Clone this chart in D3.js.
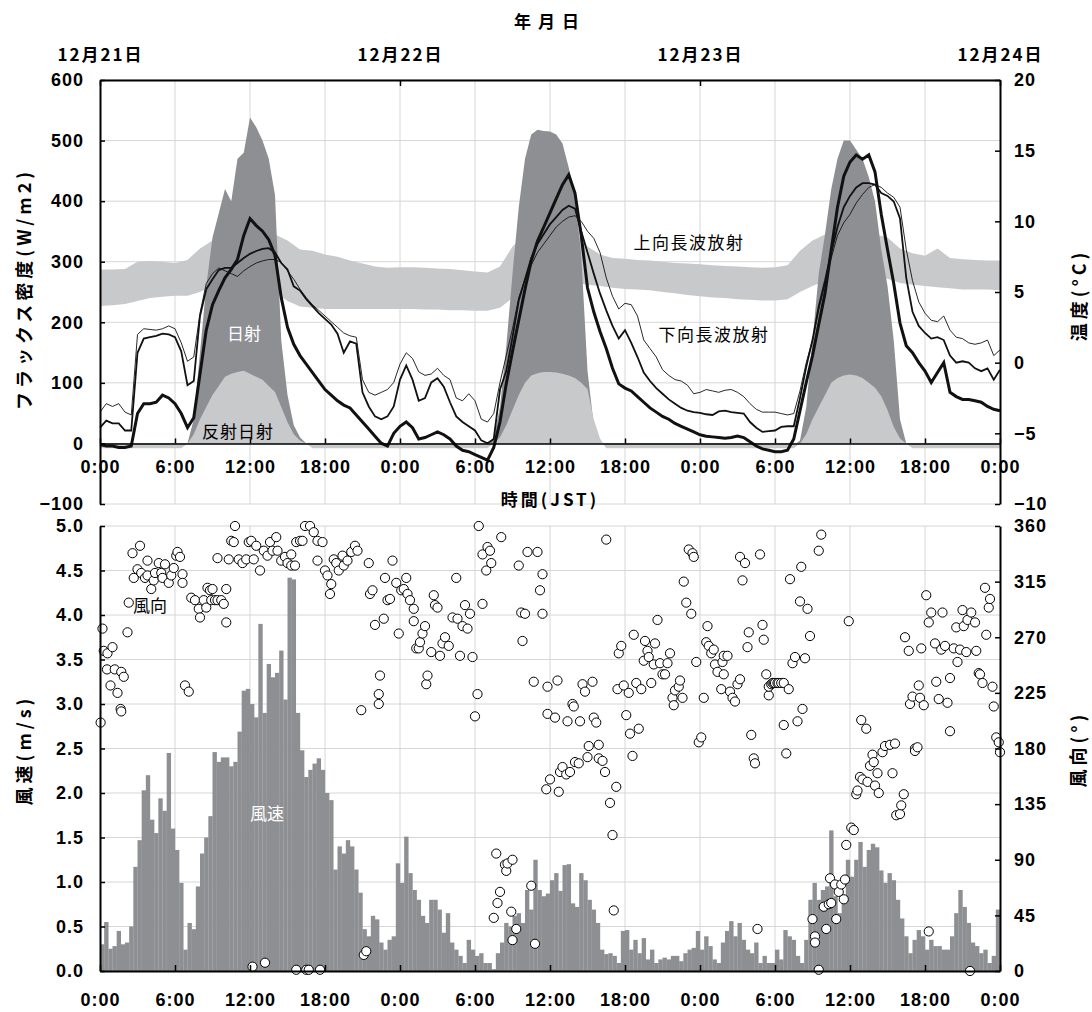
<!DOCTYPE html>
<html>
<head>
<meta charset="utf-8">
<style>
  body { margin: 0; background: #fff; }
</style>
</head>
<body>
<script src="https://d3js.org/d3.v7.min.js"></script>
<script>
    // ---- data (hours counted from 12/21 0:00) ----
    const dateLabels = ["12月21日", "12月22日", "12月23日", "12月24日"];

    // temperatures (°C), every 30 min, 0..72 h
    const tempThick = [
        -5.8,-5.9,-5.9,-6.0,-6.0,-5.9,-3.6,-2.9,-2.9,-2.8,
        -2.3,-2.5,-2.9,-3.6,-4.6,-3.9,-0.8,2.3,4.1,5.1,
        6.0,6.6,7.3,9.0,10.2,9.7,9.3,8.7,7.6,4.6,
        2.5,1.3,0.5,-0.1,-0.7,-1.3,-1.9,-2.3,-2.7,-3.0,
        -3.2,-3.7,-4.2,-4.7,-5.2,-5.7,-5.9,-5.0,-4.5,-4.2,
        -4.6,-5.4,-5.3,-5.1,-4.9,-5.1,-5.4,-5.9,-6.2,-6.3,
        -6.5,-6.7,-6.9,-6.0,-4.2,-1.5,0.8,3.0,5.2,7.2,
        8.6,9.6,10.6,11.6,12.6,13.3,12.0,9.0,5.3,3.6,
        2.2,1.0,-0.4,-1.5,-1.8,-2.0,-2.4,-2.8,-3.2,-3.5,
        -3.8,-4.0,-4.3,-4.5,-4.7,-4.9,-5.1,-5.2,-5.25,-5.3,
        -5.35,-5.3,-5.2,-5.3,-5.6,-5.9,-6.1,-6.2,-6.3,-6.3,
        -6.2,-5.4,-3.4,-1.4,0.5,2.7,4.9,8.0,11.0,13.2,
        14.2,14.7,14.4,14.7,13.5,10.5,8.0,5.6,2.8,1.2,
        0.7,0.0,-0.6,-1.4,-0.7,0.0,-2.1,-2.4,-2.6,-2.6,
        -2.7,-2.8,-3.1,-3.3,-3.4
    ];
    const tempMid = [
        -4.6,-4.1,-4.3,-4.3,-4.8,-4.8,0.7,1.7,1.8,1.9,
        2.05,2.0,1.8,0.8,-1.6,-1.3,3.3,5.2,5.9,6.55,
        6.7,6.7,7.05,7.4,7.7,7.9,8.05,8.1,7.8,7.05,
        6.6,5.4,5.1,4.5,4.0,3.5,3.1,2.7,2.05,0.7,
        1.5,1.35,-2.1,-3.1,-3.8,-4.0,-3.8,-3.1,-1.2,-0.2,
        -1.2,-2.7,-2.5,-1.4,-1.1,-1.7,-2.8,-3.8,-4.2,-4.5,
        -4.8,-5.5,-5.7,-5.4,-1.9,-0.6,1.8,4.4,5.9,7.4,
        8.4,9.1,9.8,10.3,10.8,11.1,10.9,9.3,7.8,6.3,
        4.9,3.7,2.6,1.7,2.3,1.4,0.4,-0.7,-1.3,-1.8,
        -2.2,-2.6,-2.9,-3.2,-3.4,-3.5,-3.55,-3.65,-3.7,-3.45,
        -3.4,-3.5,-3.55,-3.6,-4.2,-4.6,-4.9,-4.85,-4.8,-4.55,
        -4.5,-4.5,-2.5,-0.3,1.6,4.0,5.8,7.8,9.6,11.0,
        11.8,12.4,12.7,12.7,12.6,12.0,11.8,11.4,10.2,6.0,
        3.6,2.6,2.1,1.7,1.8,1.6,0.5,0.0,0.1,0.0,
        -0.4,-0.6,-0.4,-1.2,-0.5
    ];
    const tempThin = [
        -3.5,-2.9,-3.1,-2.9,-3.5,-3.7,2.0,2.4,2.35,2.3,
        2.4,2.6,2.4,1.4,0.1,0.4,3.5,5.6,6.3,6.7,
        6.5,6.3,6.1,6.5,6.8,7.05,7.2,7.3,7.3,7.1,
        6.5,5.9,5.2,4.6,4.1,3.7,3.3,2.9,2.5,2.1,
        1.9,1.8,-1.2,-2.1,-2.3,-2.1,-1.9,-1.4,-0.1,0.7,
        0.3,-0.65,-0.9,-0.8,-0.4,-0.9,-1.2,-2.5,-2.7,-2.2,
        -2.7,-4.0,-4.2,-3.6,-1.4,0.5,2.4,4.6,5.9,6.9,
        7.8,8.4,9.0,9.6,10.0,10.3,10.4,10.0,9.3,8.8,
        7.8,6.0,4.7,3.8,4.2,4.1,3.3,1.6,1.0,0.4,
        -0.5,-0.9,-1.2,-1.3,-1.6,-2.2,-2.1,-1.9,-2.0,-2.1,
        -1.95,-1.9,-2.1,-2.4,-2.9,-3.3,-3.5,-3.5,-3.5,-3.6,
        -3.7,-3.6,-2.0,0.0,1.6,3.7,5.6,7.4,9.0,9.9,
        10.5,11.3,11.9,12.4,12.6,12.4,12.0,11.7,11.0,8.0,
        5.8,4.3,3.5,3.0,2.9,3.3,2.3,1.8,1.7,1.4,
        1.3,1.4,1.6,0.5,0.9
    ];

    // solar radiation 日射 (W/m2), every 30 min
    const solar = [
        -3,-3,-3,-3,-3,-3,-3,-3,-3,-3,-3,-3,-3,-3,
        0,40,150,260,340,380,420,400,470,480,538,522,500,470,410,170,80,30,10,0,
        -3,-3,-3,-3,-3,-3,-3,-3,-3,-3,-3,-3,-3,-3,-3,-3,-3,-3,-3,-3,-3,-3,-3,-3,-3,-3,-3,-3,-3,
        10,60,160,280,390,470,510,518,516,515,510,495,455,410,310,120,30,0,
        -3,-3,-3,-3,-3,-3,-3,-3,-3,-3,-3,-3,-3,-3,-3,-3,-3,-3,-3,-3,-3,-3,-3,-3,-3,-3,-3,-3,-3,-3,-3,
        5,60,170,280,345,420,470,500,500,485,470,440,400,320,260,170,40,0,
        -3,-3,-3,-3,-3,-3,-3,-3,-3,-3,-3,-3,-3,-3,-3
    ];
    // reflected solar 反射日射 (W/m2), every 30 min
    const reflected = [
        -8,-8,-8,-8,-8,-8,-8,-8,-8,-8,-8,-8,-8,-8,
        0,15,40,60,80,95,110,115,118,120,115,110,105,95,85,60,35,15,5,0,
        -8,-8,-8,-8,-8,-8,-8,-8,-8,-8,-8,-8,-8,-8,-8,-8,-8,-8,-8,-8,-8,-8,-8,-8,-8,-8,-8,-8,-8,
        0,10,30,55,80,100,112,116,118,118,117,115,112,108,100,90,40,8,
        -8,-8,-8,-8,-8,-8,-8,-8,-8,-8,-8,-8,-8,-8,-8,-8,-8,-8,-8,-8,-8,-8,-8,-8,-8,-8,-8,-8,-8,-8,-8,
        0,15,40,60,80,100,108,112,114,112,108,100,92,78,55,27,8,0,
        -8,-8,-8,-8,-8,-8,-8,-8,-8,-8,-8,-8,-8,-8,-8
    ];

    // longwave band (W/m2), hourly: upper and lower edge
    const lwUpper = [
        287,287,288,300,301,300,298,303,322,335,344,348,350,348,345,335,320,318,312,308,302,297,292,290,
        291,291,290,289,288,286,284,282,292,325,345,355,358,355,350,325,312,306,305,303,302,300,298,297,
        296,294,293,292,291,290,291,294,318,335,345,350,352,350,345,340,322,314,310,322,306,304,303,302,302
    ];
    const lwLower = [
        227,228,230,235,240,242,244,244,250,260,265,268,270,265,250,235,226,224,222,222,222,222,222,222,
        222,222,221,221,220,220,219,219,224,240,255,265,268,268,265,262,260,257,255,254,253,250,248,245,
        243,241,240,238,237,236,236,238,250,260,268,272,275,275,274,272,265,262,260,258,256,254,254,254,253
    ];

    // wind speed (m/s), every 20 min
    const windSpeed = [
        0.30,0.55,0.25, 0.28,0.45,0.30, 0.32,0.50,1.17, 1.47,2.03,2.20, 1.70,1.55,1.94, 1.80,2.45,1.60,
        1.36,0.99,0.24, 0.54,0.47,0.95, 1.32,1.50,1.74, 2.46,2.35,2.40, 2.40,2.30,2.35, 2.69,3.15,3.17,
        3.00,2.85,3.90, 2.90,3.45,3.30, 3.35,3.60,3.05, 4.42,4.40,2.90, 2.48,2.18,2.26, 2.33,2.39,2.26,
        2.00,1.92,1.14, 1.40,1.32,1.47, 1.40,1.14,0.88, 0.47,0.39,0.62, 0.58,0.32,0.24, 0.35,0.39,1.21,
        0.99,1.51,1.10, 0.91,0.80,0.62, 0.54,0.80,0.80, 0.69,0.43,0.65, 0.32,0.24,0.17, 0.09,0.35,0.24,
        0.17,0.20,0.09, 0.09,0.02,0.20, 0.32,0.54,0.50, 0.62,0.65,0.54, 0.91,0.69,1.25, 0.91,0.84,0.87,
        1.02,1.10,0.90, 1.19,1.20,0.76, 0.72,1.10,1.02, 0.80,0.69,0.54, 0.24,0.19,0.20, 0.17,0.09,0.45,
        0.46,0.24,0.35, 0.20,0.37,0.13, 0.24,0.09,0.13, 0.15,0.13,0.17, 0.17,0.11,0.20, 0.24,0.26,0.45,
        0.24,0.39,0.28, 0.13,0.09,0.32, 0.45,0.56,0.39, 0.54,0.35,0.24, 0.20,0.32,0.09, 0.17,0.09,0.09,
        0.24,0.13,0.46, 0.39,0.35,0.17, 0.09,0.35,0.80, 0.99,0.80,0.91, 0.95,1.58,0.84, 0.65,0.84,1.25,
        1.06,1.25,1.45, 1.17,1.36,1.43, 1.39,1.13,0.99, 1.10,1.02,0.80, 0.59,0.39,0.20, 0.35,0.46,0.39,
        0.24,0.35,0.28, 0.28,0.24,0.24, 0.39,0.65,0.91, 0.72,0.54,0.32, 0.28,0.20,0.24, 0.09,0.17,0.69
    ];

    // wind direction [hour, degrees]
    const windDir = [
        [0.05,201],[0.2,277],[0.3,259],[0.56,244],[0.6,257],[0.84,231],[1.0,262],[1.18,244],[1.4,225],[1.65,212],
        [1.7,242],[1.7,210],[1.9,238],[2.2,274],[2.3,298],[2.6,338],[2.7,318],[3.0,325],[3.2,344],[3.3,322],
        [3.6,318],[3.8,332],[3.8,320],[4.1,309],[4.3,316],[4.4,322],[4.7,330],[4.9,322],[5.0,318],[5.2,329],
        [5.5,314],[5.7,320],[5.9,326],[6.1,336],[6.2,339],[6.4,335],[6.6,321],[6.6,314],[6.8,231],[7.1,226],
        [7.3,302],[7.6,300],[7.9,293],[8.0,286],[8.3,300],[8.5,294],[8.6,310],[8.8,308],[8.9,300],[9.0,309],
        [9.2,300],[9.4,300],[9.4,334],[9.7,300],[9.9,297],[10.1,309],[10.1,282],[10.3,333],[10.5,348],[10.7,347],
        [10.8,360],[11.1,333],[11.4,330],[11.7,333],[11.9,347],[12.1,348],[12.2,3.5],[12.3,333],[12.5,344],[12.8,324],
        [13.1,340],[13.2,6.7],[13.4,336],[13.6,347],[13.8,340],[14.1,351],[14.2,340],[14.5,332],[14.8,335],[15.0,330],
        [15.3,337],[15.3,328],[15.6,328],[15.7,347],[15.7,1],[16.0,348],[16.2,348],[16.4,360],[16.5,1],[16.7,1],
        [16.8,360],[17.1,355],[17.4,348],[17.4,332],[17.6,1],[17.8,347],[18.0,324],[18.2,320],[18.4,305],[18.5,313],
        [18.7,333],[18.9,330],[19.1,324],[19.4,336],[19.5,328],[19.8,332],[20.1,339],[20.4,344],[20.6,340],[20.9,211],
        [21.1,13],[21.3,16],[21.5,330],[21.6,305],[21.8,308],[22.0,280],[22.3,224],[22.3,216],[22.4,239],[22.7,285],
        [22.8,318],[23.0,300],[23.2,301],[23.4,332],[23.7,314],[23.9,273],[24.1,308],[24.3,309],[24.5,318],[24.6,305],
        [24.8,300],[25.1,293],[25.1,283],[25.3,261],[25.5,261],[25.6,266],[25.8,273],[26.0,279],[26.1,232],[26.2,239],
        [26.5,258],[26.7,304],[26.8,296],[27.0,294],[27.2,255],[27.4,265],[27.6,270],[27.9,263],[28.2,286],[28.5,318],
        [28.6,285],[28.8,255],[29.0,279],[29.2,296],[29.4,277],[29.6,289],[29.8,254],[30.0,206],[30.2,224],[30.3,360],
        [30.6,337],[30.6,297],[30.9,324],[31.0,343],[31.2,340],[31.3,330],[31.5,43],[31.7,95],[31.8,55],[32.0,64],
        [32.1,351],[32.4,86],[32.5,81],[32.6,87],[32.9,48],[33.0,90],[33.0,25],[33.3,34],[33.5,328],[33.7,290],
        [33.8,267],[34.0,289],[34.2,339],[34.5,69],[34.7,234],[34.8,22],[35.0,339],[35.2,308],[35.4,321],[35.4,289],
        [35.7,147],[35.8,230],[35.8,208],[36.0,155],[36.4,205],[36.6,235],[36.7,145],[36.8,161],[37.0,165],[37.3,159],
        [37.4,202],[37.6,161],[37.8,216],[37.9,214],[38.0,169],[38.3,168],[38.4,202],[38.6,232],[38.8,226],[39.0,173],
        [39.1,182],[39.4,234],[39.5,205],[39.7,201],[39.9,183],[39.9,172],[40.2,170],[40.4,161],[40.5,349],[40.8,136],
        [41.0,110],[41.1,49],[41.3,149],[41.4,228],[41.5,257],[41.7,263],[41.9,231],[42.1,207],[42.3,225],[42.4,192],
        [42.6,174],[42.7,272],[42.9,233],[43.1,196],[43.3,228],[43.5,251],[43.6,267],[43.8,259],[43.9,254],[44.1,233],
        [44.3,248],[44.4,265],[44.6,284],[44.8,249],[45.0,240],[45.2,240],[45.4,249],[45.6,257],[45.8,221],[45.9,215],
        [46.0,227],[46.3,230],[46.4,235],[46.6,221],[46.7,315],[46.9,298],[47.1,341],[47.3,289],[47.4,338],[47.5,335],
        [47.7,250],[47.9,185],[48.1,189],[48.3,221],[48.5,266],[48.6,279],[48.7,263],[48.9,257],[49.1,260],[49.2,248],
        [49.4,242],[49.7,228],[49.8,250],[49.9,255],[49.9,240],[50.2,255],[50.4,226],[50.6,221],[50.8,218],[51.0,232],
        [51.2,236],[51.2,335],[51.4,316],[51.6,330],[51.8,262],[51.9,274],[52.1,191],[52.3,172],[52.4,168],[52.6,34],
        [52.8,337],[53.0,280],[53.1,268],[53.3,240],[53.5,223],[53.5,230],[53.7,232],[53.8,233],[53.9,233],[54.0,233],
        [54.2,233],[54.3,233],[54.5,233],[54.7,199],[54.7,233],[54.9,176],[55.1,228],[55.2,317],[55.4,249],[55.6,254],
        [55.8,202],[56.0,299],[56.1,327],[56.2,212],[56.4,253],[56.6,293],[56.8,271],[57.0,42],[57.2,28],[57.2,23],
        [57.5,1],[57.5,340],[57.7,353],[57.9,52],[58.1,34],[58.3,54],[58.4,75],[58.5,55],[58.8,70],[58.9,42],
        [59.1,64],[59.3,70],[59.5,58],[59.6,74],[59.7,102],[59.9,283],[60.1,116],[60.3,114],[60.5,143],[60.6,146],
        [60.8,157],[60.9,203],[61.0,155],[61.3,196],[61.4,153],[61.6,166],[61.8,175],[61.9,169],[62.0,150],[62.2,160],
        [62.3,144],[62.6,177],[62.8,182],[63.2,183],[63.4,160],[63.6,184],[63.7,126],[64.0,127],[64.1,134],[64.3,143],
        [64.4,270],[64.7,259],[64.8,216],[65.0,222],[65.2,180],[65.2,178],[65.4,181],[65.5,231],[65.6,221],[65.7,261],
        [65.9,215],[66.1,304],[66.3,282],[66.3,32],[66.5,290],[66.8,265],[66.9,234],[67.1,220],[67.3,260],[67.4,290],
        [67.6,263],[67.8,217],[68.0,194],[68.0,237],[68.3,261],[68.5,278],[68.6,250],[68.8,260],[69.0,292],[69.1,279],
        [69.3,258],[69.4,284],[69.6,0],[69.7,290],[70.0,282],[70.1,259],[70.3,241],[70.4,240],[70.6,233],[70.8,310],
        [70.9,272],[71.1,294],[71.2,301],[71.4,230],[71.5,214],[71.7,189],[71.9,185],[72.0,177]
    ];

    const fluxTicks = [-100, 0, 100, 200, 300, 400, 500, 600];
    const tempTicks = [-10, -5, 0, 5, 10, 15, 20];
    const speedTicks = [0, 0.5, 1, 1.5, 2, 2.5, 3, 3.5, 4, 4.5, 5];
    const dirTicks = [0, 45, 90, 135, 180, 225, 270, 315, 360];
    const timeTicks = d3.range(0, 73, 6);

    // ---- layout ----
    const width = 1092, height = 1012;
    const left = 100, right = 1000;
    const topY0 = 80, topY1 = 504;
    const botY0 = 526, botY1 = 971;
    const FONT = "'Noto Sans CJK JP', 'DejaVu Sans', sans-serif";
    const NUMFONT = "'Liberation Sans', 'DejaVu Sans', sans-serif";
    const darkGray = "#8e8f93", lightGray = "#c8c9cb", gridCol = "#d6d6d6";

    const x = d3.scaleLinear().domain([0, 72]).range([left, right]);
    const yF = d3.scaleLinear().domain([-100, 600]).range([topY1, topY0]);
    const yT = d3.scaleLinear().domain([-10, 20]).range([topY1, topY0]);
    const yW = d3.scaleLinear().domain([0, 5]).range([botY1, botY0]);
    const yD = d3.scaleLinear().domain([0, 360]).range([botY1, botY0]);

    const svg = d3.select("body").append("svg")
        .attr("width", width)
        .attr("height", height)
        .style("background", "#fff");

    // gridlines
    const grid = svg.append("g").attr("stroke", gridCol).attr("stroke-width", 1);
    fluxTicks.forEach(v => grid.append("line").attr("x1", left).attr("x2", right).attr("y1", yF(v)).attr("y2", yF(v)));
    speedTicks.forEach(v => grid.append("line").attr("x1", left).attr("x2", right).attr("y1", yW(v)).attr("y2", yW(v)));
    timeTicks.filter(t => t > 0 && t < 72).forEach(t => {
        grid.append("line").attr("x1", x(t)).attr("x2", x(t)).attr("y1", topY0).attr("y2", topY1);
        grid.append("line").attr("x1", x(t)).attr("x2", x(t)).attr("y1", botY0).attr("y2", botY1);
    });

    // ---- top panel ----
    const band = d3.area()
        .x((d, i) => x(i))
        .y0((d, i) => yF(lwLower[i]))
        .y1(d => yF(d));
    svg.append("path").datum(lwUpper).attr("d", band).attr("fill", lightGray);

    const half = (d, i) => x(i / 2);
    const fluxArea = d3.area().x(half).y0(yF(0)).y1(d => yF(d));
    svg.append("path").datum(solar).attr("d", fluxArea).attr("fill", darkGray);
    svg.append("path").datum(reflected).attr("d", fluxArea).attr("fill", lightGray);

    const tLine = d3.line().x(half).y(d => yT(d));
    svg.append("path").datum(tempThin).attr("d", tLine)
        .attr("fill", "none").attr("stroke", "#111").attr("stroke-width", 0.9);
    svg.append("path").datum(tempMid).attr("d", tLine)
        .attr("fill", "none").attr("stroke", "#111").attr("stroke-width", 1.8);
    svg.append("path").datum(tempThick).attr("d", tLine)
        .attr("fill", "none").attr("stroke", "#111").attr("stroke-width", 3);

    // ---- bottom panel ----
    const step = x(1 / 3) - x(0);
    svg.append("g").selectAll("rect")
        .data(windSpeed)
        .join("rect")
        .attr("x", (d, i) => x(i / 3))
        .attr("width", step + 0.2)
        .attr("y", d => yW(d))
        .attr("height", d => yW(0) - yW(d))
        .attr("fill", darkGray);

    svg.append("g").selectAll("circle")
        .data(windDir)
        .join("circle")
        .attr("cx", d => x(d[0]))
        .attr("cy", d => yD(d[1]))
        .attr("r", 4.6)
        .attr("fill", "#fff")
        .attr("stroke", "#000")
        .attr("stroke-width", 1);

    // ---- axes ----
    function styleAxis(g, ls, family) {
        g.attr("font-family", family || NUMFONT).attr("font-size", 18).attr("font-weight", "bold");
        g.select(".domain").attr("stroke", "#000").attr("stroke-width", 2);
        g.selectAll(".tick line").attr("stroke", "#000").attr("stroke-width", 1.5);
        g.selectAll("text").attr("fill", "#000").style("letter-spacing", (ls === undefined ? 1 : ls) + "px");
    }

    svg.append("g").attr("transform", `translate(${left},0)`)
        .call(d3.axisLeft(yF).tickValues(fluxTicks).tickSize(-5).tickSizeOuter(0).tickPadding(16))
        .call(g => styleAxis(g));
    svg.append("g").attr("transform", `translate(${right},0)`)
        .call(d3.axisRight(yT).tickValues(tempTicks).tickSize(-5).tickSizeOuter(0).tickPadding(14))
        .call(g => styleAxis(g));
    svg.append("g").attr("transform", `translate(0,${topY0})`)
        .call(d3.axisTop(x).tickValues([0, 24, 48, 72]).tickSize(-6).tickSizeOuter(0).tickPadding(19)
            .tickFormat((d, i) => dateLabels[i]))
        .call(g => styleAxis(g, 2, FONT))
        .call(g => g.attr("font-size", 17));
    svg.append("g").attr("transform", `translate(0,${yF(0)})`)
        .call(d3.axisBottom(x).tickValues(timeTicks).tickSize(-5).tickSizeOuter(0).tickPadding(17)
            .tickFormat(d => (d % 24) + ":00"))
        .call(g => styleAxis(g))
        .call(g => g.select(".domain").attr("stroke-width", 1.6));

    svg.append("g").attr("transform", `translate(${left},0)`)
        .call(d3.axisLeft(yW).tickValues(speedTicks).tickSize(-5).tickSizeOuter(0).tickPadding(16)
            .tickFormat(d3.format(".1f")))
        .call(g => styleAxis(g));
    svg.append("g").attr("transform", `translate(${right},0)`)
        .call(d3.axisRight(yD).tickValues(dirTicks).tickSize(-5).tickSizeOuter(0).tickPadding(14))
        .call(g => styleAxis(g));
    svg.append("g").attr("transform", `translate(0,${botY1})`)
        .call(d3.axisBottom(x).tickValues(timeTicks).tickSize(-6).tickSizeOuter(0).tickPadding(22)
            .tickFormat(d => (d % 24) + ":00"))
        .call(g => styleAxis(g));

    // ---- titles and labels ----
    function label(txt, px, py, opts) {
        opts = opts || {};
        const t = svg.append("text")
            .attr("x", px).attr("y", py)
            .attr("text-anchor", "middle")
            .attr("dominant-baseline", "central")
            .attr("font-family", FONT)
            .attr("font-size", opts.size || 17)
            .attr("font-weight", opts.weight || "bold")
            .attr("fill", opts.fill || "#000")
            .style("letter-spacing", (opts.ls || 0) + "px")
            .text(txt);
        if (opts.rotate) t.attr("transform", `rotate(${opts.rotate},${px},${py})`);
        return t;
    }
    label("年月日", 550, 20, { ls: 7 });
    label("時間(JST)", 550, 498, { ls: 3 });
    label("フラックス密度(W/m2)", 23, 289, { rotate: -90, ls: 4, size: 18 });
    label("温度(°C)", 1078, 295, { rotate: -90, ls: 4, size: 18 });
    label("風速(m/s)", 23, 750, { rotate: -90, ls: 4, size: 18 });
    label("風向(°)", 1077, 749, { rotate: -90, ls: 4, size: 18 });

    label("日射", 244, 332, { fill: "#fff", weight: "normal" });
    label("反射日射", 238, 430, { ls: 1, weight: "normal" });
    label("上向長波放射", 689, 241, { ls: 1.5, weight: "normal" });
    label("下向長波放射", 714, 333, { ls: 1.5, weight: "normal" });
    label("風向", 150, 604, { weight: "normal" });
    label("風速", 267, 812, { fill: "#fff", weight: "normal" });
</script>
</body>
</html>
